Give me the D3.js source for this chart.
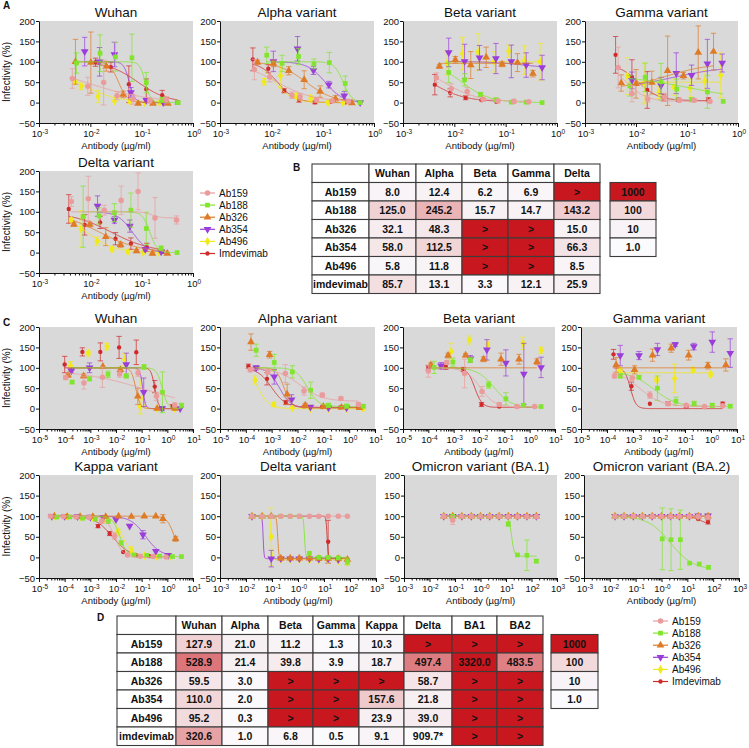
<!DOCTYPE html>
<html><head><meta charset="utf-8">
<script src="https://cdn.jsdelivr.net/npm/d3@7"></script>
<style>body{margin:0;background:#fff}text{font-family:"Liberation Sans",Arial,sans-serif}</style>
</head><body><svg id="c" width="749" height="748"></svg>
<script>
// ---------- DATA ----------
const SERIES = ["Ab159","Ab188","Ab326","Ab354","Ab496","Imdevimab"];
const yTicks = [-50,0,50,100,150,200];
const expA = ["-3","-2","-1","0"];
const expC = ["-5","-4","-3","-2","-1","0","1"];
const expW = ["-3","-2","-1","-0","1","2","3"];
// points: [log10 dose (µg/ml), infectivity %, error]; series order as SERIES
const A_Wuhan = [
 [[-2.35,59,24],[-2.05,40,22],[-1.74,49,55],[-1.48,17,10],[-1.17,8,12],[-0.84,5,6],[-0.52,7,8]],
 [[-2.27,97,25],[-1.81,121,45],[-1.51,112,35],[-1.19,110,58],[-0.91,49,25],[-0.6,7,6],[-0.29,0,3]],
 [[-2.29,100,55],[-1.99,98,75],[-1.69,89,12],[-1.36,20,8],[-1.07,-2,3],[-0.78,-2,3],[-0.49,-2,3]],
 [[-2.11,125,35],[-1.82,100,35],[-1.53,118,30],[-1.21,25,12],[-0.91,6,5],[-0.58,0,3]],
 [[-2.3,52,5],[-2.18,40,8],[-1.85,15,15],[-1.53,4,3],[-1.23,2,3],[-0.94,0,2],[-0.65,0,2]],
 [[-1.9,99,10],[-1.6,87,12],[-1.25,45,45],[-0.91,33,25],[-0.6,18,12],[-0.3,0,4]]
];
const A_Wuhan_fit = [[100,0,-2.1,0.7],[100,0,-0.93,8],[100,0,-1.45,5],[100,0,-1.24,8],[100,0,-2.24,1.2],[100,0,-1.07,1.5]];
const A_Alpha = [
 [[-2.33,81,25],[-2.03,63,12],[-1.6,18,8],[-1.44,14,8],[-1.12,7,6],[-0.82,4,4],[-0.5,3,3]],
 [[-2.09,116,20],[-1.79,96,20],[-1.47,113,20],[-1.17,95,12],[-0.87,98,25],[-0.56,47,18],[-0.27,0,3]],
 [[-2.27,99,5],[-1.96,96,8],[-1.66,78,10],[-1.36,56,22],[-1.05,27,14],[-0.75,9,8],[-0.43,-1,3]],
 [[-1.96,101,25],[-1.49,132,30],[-1.18,79,10],[-0.88,44,8],[-0.58,17,10],[-0.27,0,3]],
 [[-2.14,51,8],[-1.82,66,30],[-1.52,16,6],[-1.23,11,6],[-0.9,0,3],[-0.6,0,2]],
 [[-2.36,106,28],[-2.06,83,10],[-1.75,29,5],[-1.46,7,6],[-1.15,1,4],[-0.84,2,3],[-0.55,1,3]]
];
const A_Alpha_fit = [[100,2,-1.9,1.2],[100,0,-0.6,5],[100,0,-1.32,1.6],[100,0,-0.95,2.5],[100,0,-1.93,2.5],[100,0,-1.88,2.5]];
const A_Beta = [
 [[-2.35,61,12],[-2.06,34,12],[-1.75,27,10],[-1.44,8,5],[-1.15,4,4],[-0.84,3,5],[-0.55,2,3]],
 [[-2.11,74,25],[-1.8,56,15],[-1.49,20,5],[-1.19,7,4],[-0.89,1,3],[-0.6,1,2],[-0.29,0,2]],
 [[-2.29,89,5],[-1.98,105,8],[-1.68,92,33],[-1.38,111,25],[-1.07,94,6],[-0.77,98,22],[-0.47,71,8]],
 [[-2.11,123,35],[-1.8,101,42],[-1.51,110,30],[-1.19,108,37],[-0.89,101,40],[-0.6,92,30],[-0.29,86,30]],
 [[-2.14,97,30],[-1.84,120,40],[-1.54,124,45],[-1.23,100,25],[-0.94,126,15],[-0.63,104,35],[-0.33,100,45]],
 [[-2.38,44,25],[-2.08,24,10],[-1.78,12,5],[-1.47,6,3],[-1.18,2,3]]
];
const A_Beta_fit = [[100,2,-2.22,1.3],[100,0,-1.85,1.6],[96,96,0,1],[101,82,-0.6,1.2],[100,100,0,1],[100,2,-2.48,1.3]];
const A_Gamma = [
 [[-2.35,86,50],[-2.08,22,20],[-1.77,9,8],[-1.44,13,10],[-1.15,6,5],[-0.86,6,4],[-0.55,3,3]],
 [[-2.12,41,25],[-1.82,62,35],[-1.51,51,45],[-1.2,33,25],[-0.91,7,5],[-0.6,26,40],[-0.29,3,3]],
 [[-2.29,48,20],[-2.0,46,35],[-1.69,49,28],[-1.38,78,85],[-1.07,66,8],[-0.78,123,65],[-0.48,125,45]],
 [[-2.08,55,20],[-1.51,42,20],[-1.21,72,50],[-0.91,67,25],[-0.6,95,60],[-0.31,97,22]],
 [[-2.17,65,45],[-1.84,47,50],[-1.55,25,15],[-1.26,38,20],[-0.94,36,22],[-0.65,54,25],[-0.34,67,55]],
 [[-2.4,117,45],[-2.08,63,42],[-1.78,31,45],[-1.46,12,8],[-1.17,7,4],[-0.58,7,5]]
];
const A_Gamma_fit = [[100,3,-2.2,2.2],[70,0,-0.9,0.6],[33,97,-1.4,1.0],[32,90,-1.3,0.8],[50,50,0,1],[95,5,-1.95,2.2]];
const A_Delta = [
 [[-2.37,125,12],[-2.04,132,55],[-1.73,104,12],[-1.4,128,35],[-1.07,150,45],[-0.74,85,50],[-0.32,80,10]],
 [[-2.14,88,75],[-1.83,90,20],[-1.53,98,22],[-1.21,104,42],[-0.91,59,40],[-0.62,11,5],[-0.31,0,3]],
 [[-2.32,69,4],[-2.01,69,6],[-1.7,39,22],[-1.41,19,6],[-1.1,4,4],[-0.79,-2,4],[-0.5,-2,3]],
 [[-1.86,114,25],[-1.53,80,8],[-1.23,65,15],[-0.93,8,4],[-0.62,2,3]],
 [[-2.37,80,4],[-2.18,58,45],[-1.87,28,10],[-1.58,8,4],[-1.27,2,3],[-0.97,0,2],[-0.66,0,2]],
 [[-2.42,107,35],[-2.11,68,25],[-1.81,74,15],[-1.51,34,15],[-1.21,22,14],[-0.9,13,10],[-0.6,2,4]]
];
const A_Delta_fit = [[100,85,-0.8,5],[100,0,-0.84,6],[100,0,-1.82,1.1],[100,0,-1.18,3],[100,0,-2.07,1.6],[100,0,-1.59,1.1]];
const C_Wuhan = [
 [[-3.96,76,5],[-3.25,63,15],[-2.53,77,25],[-1.86,85,8],[-1.14,87,8],[-0.42,30,10],[0.29,9,5]],
 [[-3.71,65,4],[-3.03,73,5],[-2.31,84,8],[-1.6,80,5],[-0.91,102,6],[-0.19,40,50],[0.55,8,5]],
 [[-3.87,82,5],[-3.26,80,5],[-2.51,103,3],[-1.83,95,6],[-1.15,30,20],[-0.4,0,3],[0.3,0,2]],
 [[-3.74,93,6],[-3.03,100,12],[-1.6,108,28],[-0.92,40,35],[-0.2,0,5],[0.5,0,3]],
 [[-3.77,105,10],[-3.08,136,5],[-2.35,152,8],[-1.66,120,15],[-1.06,5,18],[-0.4,0,3],[0.3,0,2]],
 [[-4.0,108,20],[-3.31,139,10],[-2.61,139,22],[-1.88,150,27],[-1.21,138,30],[-0.49,54,15],[0.2,5,5]]
];
const C_Wuhan_fit = [[95,0,-0.89,0.35],[100,0,-0.2,4],[100,0,-1.23,5],[100,0,-0.96,8],[100,0,-1.02,8],[100,0,-0.49,6]];
const C_Alpha = [
 [[-3.83,95,5],[-3.15,90,5],[-2.47,86,22],[-1.75,43,10],[-1.04,33,5],[-0.32,25,4],[0.36,10,5]],
 [[-3.6,143,15],[-2.9,113,20],[-2.2,90,15],[-1.49,45,20],[-0.8,8,5],[-0.1,6,5],[0.55,6,4]],
 [[-3.8,163,20],[-3.08,132,8],[-2.4,35,25],[-1.7,8,5],[-1.0,5,4],[-0.3,3,3],[0.4,2,2]],
 [[-3.6,100,5],[-2.9,78,18],[-2.23,22,12],[-1.5,4,3],[-0.8,2,2],[-0.1,2,2]],
 [[-3.64,70,10],[-2.92,10,5],[-2.2,2,3],[-1.5,0,2],[-0.8,0,2],[-0.1,0,2],[0.55,0,2]],
 [[-3.9,104,5],[-3.18,73,15],[-2.45,15,5],[-1.75,5,3],[-1.05,4,3],[-0.35,3,3],[0.35,2,2]]
];
const C_Alpha_fit = [[98,18,-1.9,1],[100,5,-1.62,2],[100,2,-2.52,3],[100,2,-2.7,2],[100,0,-3.52,2],[100,3,-3.0,1.6]];
const C_Beta = [
 [[-4.0,92,15],[-3.27,113,5],[-2.57,86,35],[-1.88,42,12],[-1.2,10,5],[-0.5,5,4],[0.2,5,3]],
 [[-3.77,101,15],[-3.03,114,10],[-2.34,119,6],[-1.62,58,8],[-0.94,24,15],[-0.25,8,5],[0.45,5,3]],
 [[-3.9,107,5],[-3.22,130,6],[-2.53,131,4],[-1.82,121,6],[-1.13,121,15],[-0.42,121,12],[0.29,115,7]],
 [[-3.5,105,8],[-2.34,122,8],[-1.69,144,25],[-0.94,112,32],[-0.23,85,75],[0.45,101,25]],
 [[-3.1,140,20],[-2.38,168,10],[-1.66,157,12],[-0.26,160,15],[0.45,143,8]],
 [[-4.0,100,5],[-3.31,104,8],[-2.62,96,5],[-1.9,10,5],[-1.2,5,3],[-0.5,6,3],[0.2,5,3]]
];
const C_Beta_fit = [[100,3,-1.95,1.5],[100,3,-1.4,1.3],[100,100,0,1],null,null,[100,3,-2.17,3]];
const C_Gamma = [
 [[-3.71,80,5],[-3.03,75,5],[-2.35,33,8],[-1.65,12,5],[-0.95,8,3],[-0.25,5,3],[0.45,7,3]],
 [[-3.49,80,5],[-2.77,77,4],[-2.06,50,30],[-1.35,18,10],[-0.65,12,6],[0.05,8,5],[0.74,6,4]],
 [[-3.65,107,18],[-2.94,95,10],[-2.25,131,15],[-1.53,148,10],[-0.86,131,12],[-0.12,105,8],[0.57,107,15]],
 [[-3.49,130,25],[-2.77,130,10],[-2.06,145,15],[-1.38,157,5],[-0.66,152,8],[0.05,163,25],[0.74,136,35]],
 [[-3.49,93,5],[-2.09,71,5],[-1.4,74,35],[-0.69,95,5],[-0.01,84,5]],
 [[-3.75,133,12],[-3.06,55,10],[-2.35,12,3],[-1.65,13,4],[-0.95,6,4],[-0.25,4,3],[0.45,12,4]]
];
const C_Gamma_fit = [[95,5,-2.75,1],[90,5,-2.2,1],[100,100,0,1],null,[88,88,0,1],[100,0,-3.1,4]];
const C_Kappa = [
 [[-4.55,100,3],[-4.05,99,2],[-3.55,98,2],[-3.05,97,2],[-2.55,88,5],[-2.05,52,8],[-1.55,6,3],[-1.05,3,2],[-0.55,2,2],[-0.05,1,2]],
 [[-4.3,98,2],[-3.8,98,2],[-3.3,95,2],[-2.8,93,2],[-2.3,87,3],[-1.8,35,5],[-1.3,6,3],[-0.8,5,2],[-0.3,3,2],[0.2,2,2],[0.55,2,2]],
 [[-4.4,100,2],[-3.9,99,2],[-3.4,99,2],[-2.9,99,2],[-2.4,99,2],[-1.9,100,2],[-1.4,99,3],[-0.9,100,3],[-0.45,100,3],[-0.17,94,10],[0.32,45,6]],
 [[-4.5,100,2],[-4.0,100,2],[-3.5,99,2],[-3.0,98,2],[-2.5,97,2],[-2.0,92,3],[-1.47,76,3],[-0.95,55,10],[-0.45,15,3],[0.03,5,3]],
 [[-4.4,100,2],[-3.9,99,2],[-3.4,98,2],[-2.9,97,2],[-2.4,90,4],[-1.92,62,6],[-1.4,18,8],[-0.9,4,3],[-0.4,2,2],[0.1,2,2]],
 [[-4.5,100,2],[-4.0,99,2],[-3.55,100,2],[-3.05,98,2],[-2.7,76,4],[-2.25,58,5],[-1.72,13,3],[-1.2,5,2],[-0.7,3,2]]
];
const C_Kappa_fit = [[100,0,-2.05,2.5],[100,2,-1.85,3],[100,0,0.28,3],[100,3,-0.85,1.5],[100,2,-1.75,2.2],[100,2,-2.15,1.3]];
const C_Delta = [
 [[-1.77,100,2],[-1.38,100,2],[-1.03,100,2],[-0.66,100,2],[-0.3,100,2],[0.05,100,2],[0.44,100,2],[0.8,100,2],[1.16,100,2],[1.55,100,2],[1.9,100,2]],
 [[-1.77,100,2],[-1.38,100,2],[-1.03,100,2],[-0.66,100,2],[-0.3,100,2],[0.05,100,2],[0.44,10,3],[0.8,0,3],[1.16,0,3],[1.55,-1,3],[1.9,-10,8]],
 [[-1.77,100,2],[-1.38,100,2],[-1.03,100,2],[-0.66,-2,4],[-0.3,-2,3],[0.05,-2,3],[0.44,-2,3],[0.8,-3,3],[1.16,-3,3],[1.55,-3,3],[1.9,-5,3]],
 [[-1.77,100,2],[-1.03,-3,20],[-0.66,-3,3],[-0.3,-3,3],[0.05,-3,3],[0.44,-3,3],[0.8,-4,3],[1.16,-4,3],[1.55,-5,3]],
 [[-1.77,100,2],[-1.38,100,2],[-1.03,50,70],[-0.66,-5,3],[-0.3,-5,3],[0.05,-5,3],[0.44,-6,3],[0.8,-6,3],[1.16,-7,3],[1.55,-8,3],[1.9,-12,6]],
 [[-1.77,100,2],[-1.38,100,2],[-1.03,100,2],[-0.66,100,2],[-0.3,100,2],[0.05,100,2],[0.44,100,2],[0.8,100,2],[1.16,38,52],[1.55,-2,3],[1.9,-5,3]]
];
const C_Delta_fit = [[100,100,0,1],[100,0,0.25,20],[100,-2,-0.78,20],[100,-3,-1.34,25],[100,-5,-1.03,20],[100,-2,1.12,20]];
const C_BA1 = [
 [[-1.44,100,2],[-1.09,90,10],[-0.73,100,2],[-0.36,100,2],[0.0,100,2],[0.36,100,2],[0.73,100,2],[1.09,99,2],[1.45,99,2],[1.82,99,2],[2.19,99,2]],
 [[-1.44,100,2],[-1.09,100,2],[-0.73,100,2],[-0.36,100,2],[0.0,100,2],[0.36,100,2],[0.73,100,2],[1.09,81,5],[1.45,6,3],[1.82,5,37],[2.19,-9,4]],
 [[-1.44,100,2],[-1.09,100,2],[-0.73,100,2],[-0.36,100,2],[0.0,100,2],[0.36,100,2],[0.73,100,2],[1.09,100,2],[1.45,100,2],[1.82,100,2],[2.19,100,2]],
 [[-1.44,100,2],[-1.09,100,2],[-0.73,100,2],[-0.36,100,2],[0.0,100,2],[0.36,100,2],[0.73,100,2],[1.09,100,2],[1.45,100,2],[1.82,100,2],[2.19,100,2]],
 [[-1.44,100,2],[-1.09,100,2],[-0.73,100,2],[-0.36,100,2],[0.0,100,2],[0.36,100,2],[0.73,100,2],[1.09,100,2],[1.45,100,2],[1.82,100,2],[2.19,100,2]],
 [[-1.44,100,2],[-1.09,100,2],[-0.73,100,2],[-0.36,100,2],[0.0,100,2],[0.36,100,2],[0.73,100,2],[1.09,100,2],[1.45,100,2],[1.82,100,2],[2.19,100,2]]
];
const C_BA1_fit = [[100,100,0,1],[100,3,1.22,8],[100,100,0,1],[100,100,0,1],[100,100,0,1],[100,100,0,1]];
const C_BA2 = [
 [[-1.8,100,2],[-1.45,100,2],[-1.09,100,2],[-0.74,100,2],[-0.36,100,2],[0.0,100,2],[0.35,100,2],[0.69,100,2],[1.08,100,2],[1.42,99,2],[1.8,98,2]],
 [[-1.8,100,2],[-1.45,100,2],[-1.09,100,2],[-0.74,100,2],[0.03,45,75],[0.37,43,75],[0.73,43,72],[1.09,-14,3],[1.46,-16,3],[1.82,-24,4]],
 [[-1.8,100,2],[-1.45,100,2],[-1.09,100,2],[-0.74,100,2],[-0.36,100,2],[0.0,100,2],[0.35,100,2],[0.69,100,2],[1.08,100,2],[1.42,100,2],[1.8,100,2]],
 [[-1.8,100,2],[-1.45,100,2],[-1.09,100,2],[-0.74,100,2],[-0.36,100,2],[0.0,100,2],[0.35,100,2],[0.69,100,2],[1.08,100,2],[1.42,101,2],[1.8,101,2]],
 [[-1.8,100,2],[-1.45,100,2],[-1.09,100,2],[-0.74,100,2],[-0.36,100,2],[0.0,100,2],[0.35,100,2],[0.69,100,2],[1.08,100,2],[1.42,100,2],[1.8,100,2]],
 [[-1.8,100,2],[-1.45,100,2],[-1.09,100,2],[-0.74,100,2],[-0.36,100,2],[0.0,100,2],[0.35,100,2],[0.69,100,2],[1.08,100,2],[1.42,93,3],[1.8,86,5]]
];
const C_BA2_fit = [[100,100,0,1],[100,-30,0.35,1.0],[100,100,0,1],[100,100,0,1],[100,100,0,1],[100,80,1.5,2.5]];
// IC50 tables (ng/ml)
const tabB_cols = ["Wuhan","Alpha","Beta","Gamma","Delta"];
const tabB_rows = ["Ab159","Ab188","Ab326","Ab354","Ab496","imdevimab"];
const tabB_vals = [
 ["8.0","12.4","6.2","6.9",">"],
 ["125.0","245.2","15.7","14.7","143.2"],
 ["32.1","48.3",">",">","15.0"],
 ["58.0","112.5",">",">","66.3"],
 ["5.8","11.8",">",">","8.5"],
 ["85.7","13.1","3.3","12.1","25.9"]
];
const tabD_cols = ["Wuhan","Alpha","Beta","Gamma","Kappa","Delta","BA1","BA2"];
const tabD_rows = ["Ab159","Ab188","Ab326","Ab354","Ab496","imdevimab"];
const tabD_vals = [
 ["127.9","21.0","11.2","1.3","10.3",">",">",">"],
 ["528.9","21.4","39.8","3.9","18.7","497.4","3320.0","483.5"],
 ["59.5","3.0",">",">",">","58.7",">",">"],
 ["110.0","2.0",">",">","157.6","21.8",">",">"],
 ["95.2","0.3",">",">","23.9","39.0",">",">"],
 ["320.6","1.0","6.8","0.5","9.1","909.7*",">",">"]
];
const scaleKeys = ["1000","100","10","1.0"];

// ---------- STYLE / LAYOUT ----------
const COLORS = ["#ea9c9c","#80e52c","#df7b27","#9a3dda","#f1ea1a","#d12a2b"];
const FF = '"Liberation Sans",Arial,sans-serif';
const svg = d3.select("#c");
const panels = [
 {t:"Wuhan", d:A_Wuhan, f:A_Wuhan_fit, ex:expA, x:[39,193], y:[21,123], yl:true},
 {t:"Alpha variant", d:A_Alpha, f:A_Alpha_fit, ex:expA, x:[220,374], y:[21,123]},
 {t:"Beta variant", d:A_Beta, f:A_Beta_fit, ex:expA, x:[403,557], y:[21,123]},
 {t:"Gamma variant", d:A_Gamma, f:A_Gamma_fit, ex:expA, x:[585,738], y:[21,123]},
 {t:"Delta variant", d:A_Delta, f:A_Delta_fit, ex:expA, x:[39,193], y:[171,273], yl:true},
 {t:"Wuhan", d:C_Wuhan, f:C_Wuhan_fit, ex:expC, x:[39,193], y:[327,429], yl:true},
 {t:"Alpha variant", d:C_Alpha, f:C_Alpha_fit, ex:expC, x:[220,375], y:[327,429]},
 {t:"Beta variant", d:C_Beta, f:C_Beta_fit, ex:expC, x:[403,555], y:[327,429]},
 {t:"Gamma variant", d:C_Gamma, f:C_Gamma_fit, ex:expC, x:[581,737], y:[327,429]},
 {t:"Kappa variant", d:C_Kappa, f:C_Kappa_fit, ex:expC, x:[39,193], y:[475,578], yl:true},
 {t:"Delta variant", d:C_Delta, f:C_Delta_fit, ex:expW, x:[220,376], y:[475,578]},
 {t:"Omicron variant (BA.1)", d:C_BA1, f:C_BA1_fit, ex:expW, x:[404,557], y:[475,578]},
 {t:"Omicron variant (BA.2)", d:C_BA2, f:C_BA2_fit, ex:expW, x:[584,739], y:[475,578]}
];

function shape(i){
  const T=[d3.symbolCircle,d3.symbolSquare,d3.symbolTriangle,d3.symbolTriangle,d3.symbolDiamond,d3.symbolCircle];
  const S=[24,22,26,26,24,15];
  return d3.symbol(T[i],S[i])();
}
function fourPL(x,p){ return p[1]+(p[0]-p[1])/(1+Math.pow(10,(x-p[2])*p[3])); }

function drawPanel(p){
  const g=svg.append("g");
  const lo=+p.ex[0], hi=+p.ex[p.ex.length-1];
  const xs=d3.scaleLog().domain([Math.pow(10,lo),Math.pow(10,hi)]).range(p.x);
  const ys=d3.scaleLinear().domain([-50,200]).range([p.y[1],p.y[0]]);
  g.append("rect").attr("x",p.x[0]).attr("y",p.y[0]).attr("width",p.x[1]-p.x[0]).attr("height",p.y[1]-p.y[0]).attr("fill","#d9d9d9");
  const ya=g.append("g").attr("transform",`translate(${p.x[0]},0)`)
    .call(d3.axisLeft(ys).tickValues(yTicks).tickSize(3).tickPadding(1).tickSizeOuter(0));
  ya.selectAll("text").attr("font-size",9.5).attr("font-family",FF).attr("fill","#111");
  ya.selectAll("line,path").attr("stroke","#111");
  const major=[],minor=[];
  for(let k=lo;k<=hi;k++){ major.push(Math.pow(10,k)); if(k<hi) for(let m=2;m<10;m++) minor.push(m*Math.pow(10,k)); }
  const xa=g.append("g").attr("transform",`translate(0,${p.y[1]})`)
    .call(d3.axisBottom(xs).tickValues(major.concat(minor)).tickFormat("").tickSize(4).tickSizeOuter(0));
  xa.selectAll(".tick").filter(d=>minor.includes(d)).select("line").attr("y2",2.5);
  xa.selectAll("line,path").attr("stroke","#111");
  p.ex.forEach((e,i)=>{
    const t=g.append("text").attr("x",xs(major[i])+1).attr("y",p.y[1]+14).attr("text-anchor","middle")
      .attr("font-size",9.5).attr("fill","#111");
    t.append("tspan").text("10");
    t.append("tspan").attr("dy",-3).attr("font-size",6.5).text(e);
  });
  g.append("text").attr("x",(p.x[0]+p.x[1])/2).attr("y",p.y[1]+25.5).attr("text-anchor","middle")
    .attr("font-size",9.5).attr("fill","#111").text("Antibody (µg/ml)");
  g.append("text").attr("x",(p.x[0]+p.x[1])/2).attr("y",p.y[0]-4).attr("text-anchor","middle")
    .attr("font-size",13.5).attr("fill","#111").text(p.t);
  if(p.yl) g.append("text").attr("transform",`translate(10,${(p.y[0]+p.y[1])/2}) rotate(-90)`)
    .attr("text-anchor","middle").attr("font-size",10).attr("fill","#111").text("Infectivity (%)");
  const line=d3.line().x(d=>xs(Math.pow(10,d[0]))).y(d=>ys(d[1]));
  for(let s=5;s>=0;s--){
    const pts=p.d[s], fit=p.f[s], c=COLORS[s];
    const sg=g.append("g");
    if(fit){
      const a=d3.min(pts,d=>d[0]), b=d3.max(pts,d=>d[0]);
      const curve=d3.range(0,301).map(i=>{const x=a+(b-a)*i/300; return [x,fourPL(x,fit)];});
      sg.append("path").attr("d",line(curve)).attr("fill","none").attr("stroke",c).attr("stroke-width",1).attr("stroke-opacity",0.85);
    }
    pts.forEach(d=>{
      const X=xs(Math.pow(10,d[0]));
      const y1=ys(d[1]+d[2]), y2=ys(d[1]-d[2]);
      if(Math.abs(y2-y1)>3){
        sg.append("path").attr("d",`M${X},${y1}V${y2}M${X-2.7},${y1}H${X+2.7}M${X-2.7},${y2}H${X+2.7}`)
          .attr("stroke",c).attr("stroke-width",1).attr("stroke-opacity",0.7).attr("fill","none");
      }
    });
    sg.selectAll(".m").data(pts).join("path")
      .attr("transform",d=>`translate(${xs(Math.pow(10,d[0]))},${ys(d[1])})${s===3?" rotate(180)":""}`)
      .attr("d",shape(s)).attr("fill",c);
  }
}
panels.forEach(drawPanel);

function legend(x,y){
  SERIES.forEach((n,i)=>{
    const yy=y+i*12.1;
    svg.append("line").attr("x1",x).attr("x2",x+15).attr("y1",yy).attr("y2",yy).attr("stroke",COLORS[i]).attr("stroke-width",1.2);
    svg.append("path").attr("d",shape(i)).attr("fill",COLORS[i]).attr("transform",`translate(${x+7.5},${yy})${i===3?" rotate(180)":""}`);
    svg.append("text").attr("x",x+19).attr("y",yy+3.6).attr("font-size",10).attr("fill","#111").text(n);
  });
}
legend(200,193);
legend(653,621);

const RED="#c8171e";
function cellColor(s){
  if(s===">") return RED;
  if(s.indexOf("*")>=0) return "#fbfafc";
  const v=+s;
  if(v>=1000) return RED;
  if(v>=100) return d3.interpolateRgb("#f2dadc",RED)(Math.pow((v-100)/900,0.9));
  if(v>=10) return d3.interpolateRgb("#f8f3f6","#f2dadc")((v-10)/90);
  return d3.interpolateRgb("#fbfafd","#f8f3f6")(v/10);
}
function drawTable(cols,rows,vals,xe,top,h){
  const g=svg.append("g");
  const cell=(x0,x1,y0,fill,txt)=>{
    g.append("rect").attr("x",x0).attr("y",y0).attr("width",x1-x0).attr("height",h).attr("fill",fill).attr("stroke","#3c3c3c").attr("stroke-width",1.1);
    g.append("text").attr("x",(x0+x1)/2).attr("y",y0+h/2+3.8).attr("text-anchor","middle").attr("font-size",10.5).attr("font-weight","bold").attr("fill","#111").text(txt);
  };
  cell(xe[0],xe[1],top,"#fff","");
  cols.forEach((c,j)=>cell(xe[j+1],xe[j+2],top,"#fff",c));
  rows.forEach((r,i)=>{
    const y0=top+(i+1)*h;
    cell(xe[0],xe[1],y0,"#fff",r);
    vals[i].forEach((v,j)=>cell(xe[j+1],xe[j+2],y0,cellColor(v),v));
  });
}
function drawKey(x0,x1,top,h){
  const g=svg.append("g");
  const fills=[RED,"#f2dadc","#f8f3f6","#fbfafd"];
  scaleKeys.forEach((k,i)=>{
    g.append("rect").attr("x",x0).attr("y",top+i*h).attr("width",x1-x0).attr("height",h).attr("fill",fills[i]).attr("stroke","#3c3c3c").attr("stroke-width",1.1);
    g.append("text").attr("x",(x0+x1)/2).attr("y",top+i*h+h/2+3.8).attr("text-anchor","middle").attr("font-size",10.5).attr("font-weight","bold").attr("fill","#111").text(k);
  });
}
drawTable(tabB_cols,tabB_rows,tabB_vals,[312,369,416,462,508,554,600],164,18.5);
drawKey(610,656,182.5,18.5);
drawTable(tabD_cols,tabD_rows,tabD_vals,[117,176,222,268,313,359,404,452,497,543],616,18.5);
drawKey(551,598,634.5,18.5);

[["A",3,9],["B",293,171],["C",3,326],["D",97,621]].forEach(l=>
  svg.append("text").attr("x",l[1]).attr("y",l[2]).attr("font-size",10).attr("font-weight","bold").attr("fill","#111").text(l[0]));
</script></body></html>
